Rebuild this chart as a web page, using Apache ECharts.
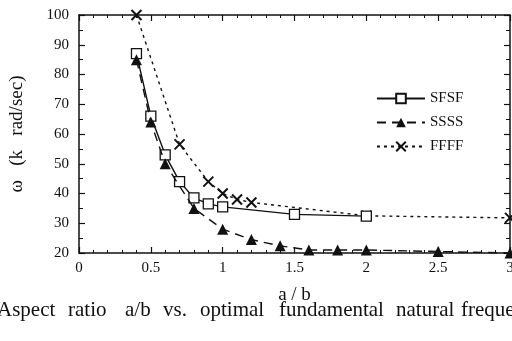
<!DOCTYPE html>
<html>
<head>
<meta charset="utf-8">
<script src="https://cdn.jsdelivr.net/npm/echarts@6/dist/echarts.min.js"></script>
<style>
html,body{margin:0;padding:0;background:#fff;}
#c{width:512px;height:341px;}
</style>
</head>
<body>
<div id="c"></div>
<script>
// ---- data ----
var sfsfX = [0.4, 0.5, 0.6, 0.7, 0.8, 0.9, 1.0, 1.5, 2.0];
var sfsfY = [87, 66, 53, 44, 38.5, 36.5, 35.5, 33, 32.4];
var ssssX = [0.4, 0.5, 0.6, 0.8, 1.0, 1.2, 1.4, 1.6, 1.8, 2.0, 2.5, 3.0];
var ssssY = [85, 64, 50, 35, 28, 24.5, 22.4, 21, 21, 21, 20.5, 20];
var ffffX = [0.4, 0.7, 0.9, 1.0, 1.1, 1.2, 2.0, 3.0];
var ffffY = [100, 56.5, 44, 40, 38, 37, 32.5, 31.8];
var seriesNames = ['SFSF', 'SSSS', 'FFFF'];
var xTitle = 'a / b';
var yTitle = 'ω   (k   rad/sec)';
var captionWords = ['Aspect', 'ratio', 'a/b', 'vs.', 'optimal', 'fundamental', 'natural', 'frequency'];
var captionX = [-3, 68, 125, 163, 200, 279, 396, 461];

function pairs(xs, ys) { return xs.map(function (x, i) { return [x, ys[i]]; }); }

var FONT = '"Liberation Serif", "DejaVu Serif", serif';
var INK = '#111';

var chart = echarts.init(document.getElementById('c'), null, {renderer: 'canvas'});

var baseX = {
  type: 'value', min: 0, max: 3, interval: 0.5,
  axisLine: {show: true, onZero: false, lineStyle: {color: INK, width: 1.5}},
  axisTick: {show: true, inside: true, length: 6, lineStyle: {color: INK, width: 1.2}},
  minorTick: {show: true, splitNumber: 5, length: 3, lineStyle: {color: INK, width: 1}},
  splitLine: {show: false}
};
var baseY = {
  type: 'value', min: 20, max: 100, interval: 10,
  axisLine: {show: true, onZero: false, lineStyle: {color: INK, width: 1.5}},
  axisTick: {show: true, inside: true, length: 6, lineStyle: {color: INK, width: 1.2}},
  minorTick: {show: true, splitNumber: 2, length: 4, lineStyle: {color: INK, width: 1}},
  splitLine: {show: false}
};

var xMark = 'path://M0,0 L10,10 M10,0 L0,10';

chart.setOption({
  animation: false,
  backgroundColor: '#fff',
  grid: {left: 79, right: 2, top: 15, bottom: 88, containLabel: false, outerBoundsMode: 'none'},
  xAxis: [
    Object.assign({}, baseX, {
      position: 'bottom',
      name: xTitle, nameLocation: 'middle', nameGap: 33,
      nameTextStyle: {fontFamily: FONT, fontSize: 19, color: INK},
      axisLabel: {show: true, margin: 8, fontFamily: FONT, fontSize: 15, color: INK,
        formatter: function (v) { return String(v); }}
    }),
    Object.assign({}, baseX, {position: 'top', axisLabel: {show: false}})
  ],
  yAxis: [
    Object.assign({}, baseY, {
      position: 'left',
      name: yTitle, nameLocation: 'middle', nameGap: 52,
      nameTextStyle: {fontFamily: FONT, fontSize: 19, color: INK},
      axisLabel: {show: true, margin: 10, fontFamily: FONT, fontSize: 15, color: INK}
    }),
    Object.assign({}, baseY, {position: 'right', axisLabel: {show: false}})
  ],
  legend: {
    orient: 'vertical', left: 371, top: 86,
    itemWidth: 48, itemHeight: 12, itemGap: 9,
    textStyle: {fontFamily: FONT, fontSize: 15, color: INK},
    data: seriesNames
  },
  series: [
    {
      name: seriesNames[0], type: 'line', data: pairs(sfsfX, sfsfY),
      symbol: 'rect', symbolSize: 10, clip: false,
      lineStyle: {color: INK, width: 1.4, type: 'solid'},
      itemStyle: {color: '#fff', borderColor: INK, borderWidth: 1.3},
      z: 3
    },
    {
      name: seriesNames[1], type: 'line', data: pairs(ssssX, ssssY),
      symbol: 'triangle', symbolSize: 11, clip: false,
      lineStyle: {color: INK, width: 1.4, type: [9, 6]},
      itemStyle: {color: INK, borderColor: INK, borderWidth: 0},
      z: 4
    },
    {
      name: seriesNames[2], type: 'line', data: pairs(ffffX, ffffY),
      symbol: xMark, symbolSize: 10, clip: false,
      lineStyle: {color: INK, width: 1.4, type: [3, 4]},
      itemStyle: {color: 'rgba(0,0,0,0)', borderColor: INK, borderWidth: 2},
      z: 2
    }
  ],
  graphic: captionWords.map(function (w, i) {
    return {
      type: 'text', left: captionX[i], top: 300,
      style: {text: w, font: '21px ' + FONT, fill: INK}
    };
  })
});
</script>
</body>
</html>
